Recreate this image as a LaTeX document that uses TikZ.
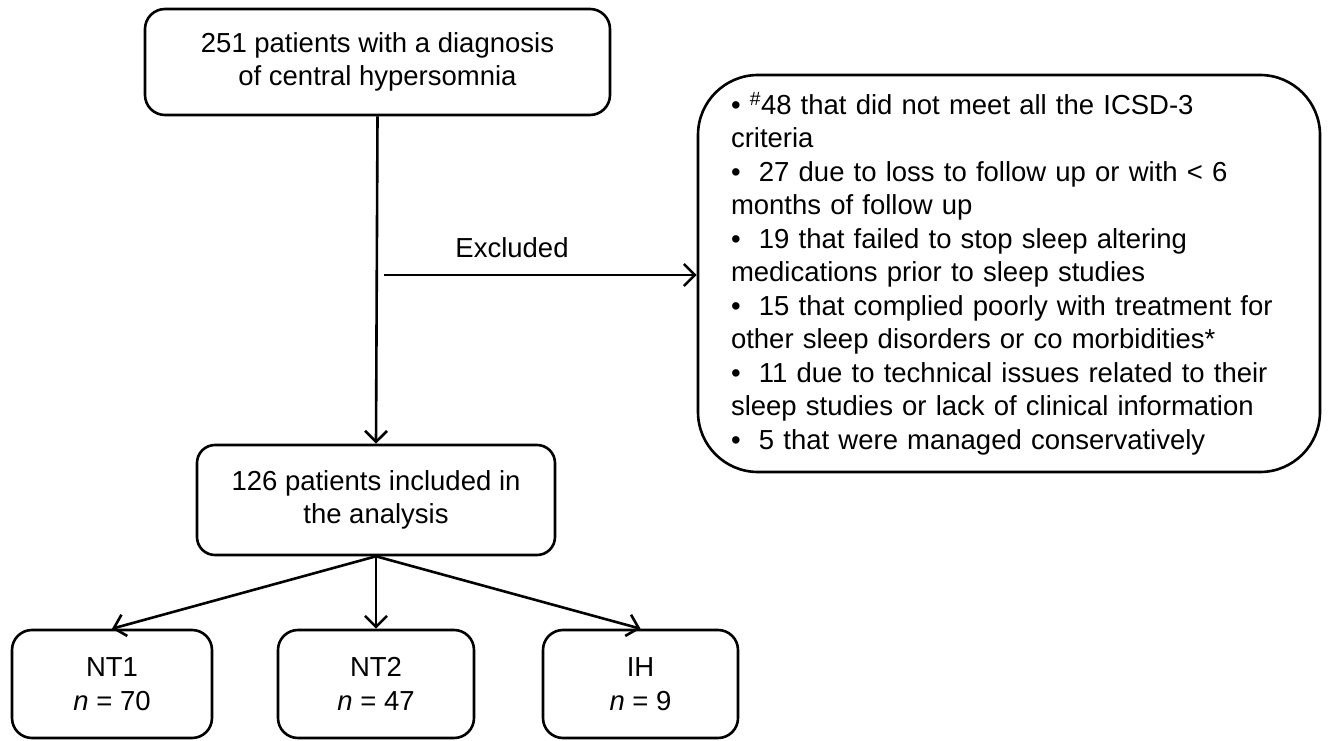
\documentclass[tikz,border=0pt]{standalone}
\usepackage{fontspec}
\setmainfont{Liberation Sans}
\usetikzlibrary{arrows.meta}
\newcommand{\diafont}{\fontsize{27.5pt}{33.5pt}\selectfont}
\tikzset{
  flowbox/.style={draw, line width=2.6pt, rounded corners=20pt, align=center, inner sep=0pt, font=\diafont},
  notebox/.style={draw, line width=2.6pt, rounded corners=60pt, align=left, inner xsep=33pt, inner ysep=0pt, text width=556pt, font=\diafont},
  flowarrow/.style={line width=2.6pt, -{Straight Barb[length=11pt, width=22pt]}},
  lbl/.style={font=\diafont, inner sep=0pt}
}
\begin{document}
\begin{tikzpicture}[x=1pt,y=-1pt]
\fill[white] (0,0) rectangle (1328,741);
\useasboundingbox (0,0) rectangle (1328,741);

\node[flowbox, minimum width=465pt, minimum height=106pt] (top) at (377.5,62) {251 patients with a diagnosis\\of central hypersomnia};
\node[flowbox, rounded corners=18pt, minimum width=358pt, minimum height=110pt] (incl) at (376,500) {126 patients included in\\the analysis};
\node[flowbox, minimum width=200pt, minimum height=108pt] (nt1) at (112,684) {NT1\\\textit{n} = 70};
\node[flowbox, minimum width=196pt, minimum height=108pt] (nt2) at (376,684) {NT2\\\textit{n} = 47};
\node[flowbox, minimum width=195pt, minimum height=108pt] (ih) at (640.5,684) {IH\\\textit{n} = 9};

\node[notebox, minimum width=622pt, minimum height=397pt] (excl) at (1009,273.5) {%
•\ \textsuperscript{\#}48 that did not meet all the ICSD-3\\
criteria\\
•\ \ 27 due to loss to follow up or with < 6\\
months of follow up\\
•\ \ 19 that failed to stop sleep altering\\
medications prior to sleep studies\\
•\ \ 15 that complied poorly with treatment for\\
other sleep disorders or co morbidities*\\
•\ \ 11 due to technical issues related to their\\
sleep studies or lack of clinical information\\
•\ \ 5 that were managed conservatively};

\draw[flowarrow] (top.south) -- (incl.north);
\coordinate (exstart) at (384,275);
\draw[flowarrow] (exstart) -- (exstart -| excl.west);
\node[lbl] (exlabel) at (512,248) {Excluded};

\draw[flowarrow] (incl.south) -- (nt1.north);
\draw[flowarrow] (incl.south) -- (nt2.north);
\draw[flowarrow] (incl.south) -- (ih.north);
\end{tikzpicture}
\end{document}
